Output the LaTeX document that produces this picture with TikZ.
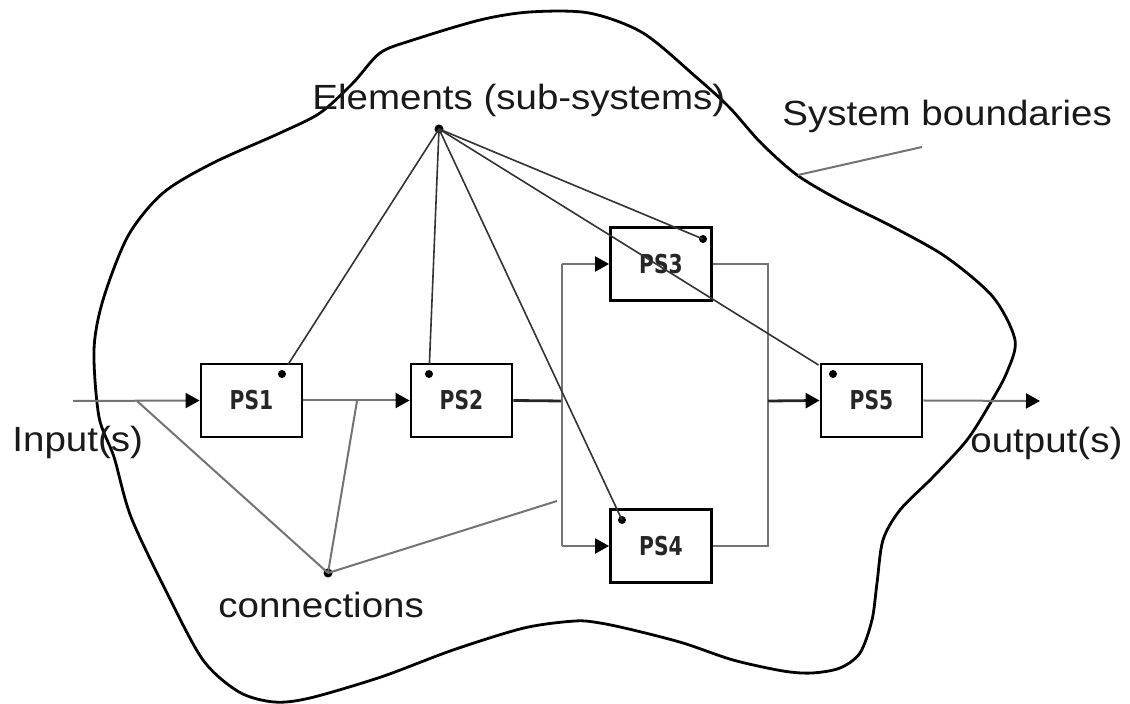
\documentclass[tikz,border=0pt]{standalone}
\usepackage{fontspec}
\setmainfont{Liberation Sans}[FakeStretch=1.1]
\newfontfamily\psfont{DejaVu Sans}[FakeStretch=0.78]
\usetikzlibrary{arrows.meta,calc}
\begin{document}
\begin{tikzpicture}[x=0.5pt,y=-0.5pt,
  box/.style={draw=black,line width=1.4pt,minimum width=50.5pt,minimum height=36.5pt,inner sep=0pt,
    font=\psfont\bfseries\fontsize{13}{15}\selectfont,text=black!85},
  conn/.style={draw=black!55,line width=1pt},
  thickconn/.style={draw=black!85,line width=1.4pt},
  flow/.style={-{Triangle[length=7pt,width=7.5pt,color=black]}},
  elem/.style={draw=black!80,line width=0.8pt},
  lbl/.style={font=\fontsize{17.5}{20}\selectfont,inner sep=0pt,anchor=base west,text=black!90},
  dotm/.style={circle,fill=black,inner sep=0pt,minimum size=4pt},
  boundary/.style={draw=black,line width=1.4pt}]
\useasboundingbox (0,0) rectangle (1130,704);

% system boundary
\draw[boundary] plot[smooth cycle, tension=0.5] coordinates {
 (530,12) (589,13) (643,33) (696,77) (729,107) (761,143) (797,175) (839,200) (893,227)
 (946,257) (993,297) (1015,340) (1007,372) (991,402) (967,440) (933,477) (900,510)
 (883,540) (877,583) (872,620) (860,653) (840,668) (812,673) (783,671) (733,660)
 (683,643) (633,630) (600,623) (575,621) (524,628) (453,650) (381,677) (310,698)
 (274,702) (239,692) (203,660) (167,593) (131,517) (114,457) (99,417) (94,350)
 (103,300) (128,236) (163,193) (213,163) (280,133) (320,113) (353,83) (380,53)
 (413,40) (480,20)};

% boxes
\node[box] (ps1) at (251.5,400.5) {PS1};
\node[box] (ps2) at (461.5,400.5) {PS2};
\node[box] (ps3) at (661,264) {PS3};
\node[box] (ps4) at (661,546) {PS4};
\node[box] (ps5) at (871.5,400.5) {PS5};

% dots in boxes
\node[dotm] (d1) at (282,374) {};
\node[dotm] (d2) at (429,374) {};
\node[dotm] (d3) at (703,239) {};
\node[dotm] (d4) at (622,520) {};
\node[dotm] (d5) at (833,374) {};

% coordinates of the flow
\coordinate (in) at (73,401);
\coordinate (jin) at (137,401);
\coordinate (j12) at (357,401);
\coordinate (bl) at (562,401);
\coordinate (blt) at (562,264);
\coordinate (blb) at (562,546);
\coordinate (brt) at (768,264);
\coordinate (brb) at (768,546);
\coordinate (br) at (768,401);
\coordinate (out) at (1040,401);
\coordinate (cend) at (557,501);
\coordinate (sb1) at (798,175);
\coordinate (sb2) at (922,147);

% flow lines
\draw[conn,flow] (in) -- (ps1.west);
\draw[conn,flow] (ps1.east) -- (ps2.west);
\draw[thickconn] (ps2.east) -- (bl);
\draw[conn] (blt) -- (blb);
\draw[conn,flow] (blt) -- (ps3.west);
\draw[conn,flow] (blb) -- (ps4.west);
\draw[conn] (ps3.east) -- (brt) -- (brb) -- (ps4.east);
\draw[thickconn,flow] (br) -- (ps5.west);
\draw[conn,flow] (ps5.east) -- (out);

% labels
\node[lbl] (elab) at (312,110) {Elements (sub-systems)};
\node[lbl] (slab) at (782,126) {System boundaries};
\node[lbl] (ilab) at (12,452) {Input(s)};
\node[lbl] (olab) at (970,453) {output(s)};
\node[lbl] (clab) at (218,618) {connections};

% elements pointer
\node[dotm,minimum size=4.5pt] (edot) at (439,129) {};
\draw[elem,shorten >=5.5pt] (edot.center) -- (d1.center);
\draw[elem,shorten >=5pt] (edot.center) -- (d2.center);
\draw[elem] (edot.center) -- (d3.center);
\draw[elem] (edot.center) -- (d4.center);
\draw[elem,shorten >=8.5pt] (edot.center) -- (d5.center);

% connections pointer
\node[dotm,minimum size=4.5pt] (cdot) at (328,573) {};
\draw[conn] (cdot.center) -- (jin);
\draw[conn] (cdot.center) -- (j12);
\draw[conn] (cdot.center) -- (cend);

% system boundary pointer
\draw[conn] (sb1) -- (sb2);
\end{tikzpicture}
\end{document}
